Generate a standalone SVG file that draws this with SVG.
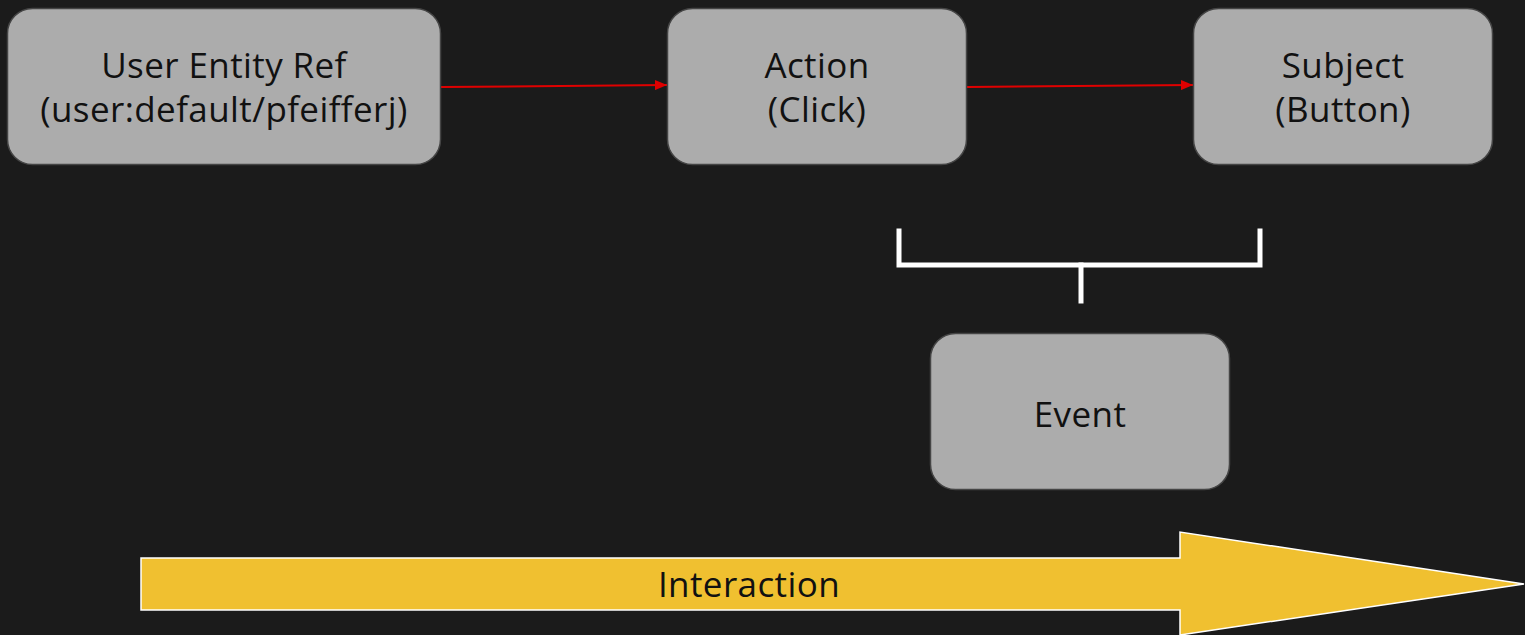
<svg xmlns="http://www.w3.org/2000/svg" width="1525" height="635" viewBox="0 0 1525 635">
<defs>
<style>
.box{fill:#acacac;stroke:#454545;stroke-width:1.5}
.lbl{font-family:"Open Sans","Liberation Sans",sans-serif;font-size:35px;font-weight:370;letter-spacing:0.4px;fill:#111;text-anchor:middle}
.edge{stroke:#e00000;stroke-width:2;fill:none}
.br{stroke:#ffffff;stroke-width:5;fill:none;stroke-linecap:square}
</style>
<marker id="ah" viewBox="0 0 12 10" refX="12" refY="5" markerWidth="12" markerHeight="10" markerUnits="userSpaceOnUse" orient="auto">
<path d="M0,0 L12,5 L0,10 Z" fill="#e00000"/>
</marker>
</defs>
<rect width="1525" height="635" fill="#1b1b1b"/>
<g id="connectors">
<path class="edge" d="M441,87 L667,85" marker-end="url(#ah)"/>
<path class="edge" d="M967,87 L1193,85" marker-end="url(#ah)"/>
<path class="br" d="M899,231 V265 H1260 V231"/>
<path class="br" d="M1081,265 V301"/>
</g>
<g id="user">
<rect class="box" x="7.5" y="8.5" width="433" height="156" rx="25"/>
<text class="lbl" x="224" y="78">User Entity Ref</text>
<text class="lbl" x="224" y="122">(user:default/pfeifferj)</text>
</g>
<g id="action">
<rect class="box" x="667.5" y="8.5" width="299" height="156" rx="25"/>
<text class="lbl" x="817" y="78">Action</text>
<text class="lbl" x="817" y="122">(Click)</text>
</g>
<g id="subject">
<rect class="box" x="1193.5" y="8.5" width="299" height="156" rx="25"/>
<text class="lbl" x="1343" y="78">Subject</text>
<text class="lbl" x="1343" y="122">(Button)</text>
</g>
<g id="event">
<rect class="box" x="930.5" y="333.5" width="299" height="156" rx="25"/>
<text class="lbl" x="1080" y="427">Event</text>
</g>
<g id="interaction">
<path d="M141,558 H1180 V532 L1524,584 L1180,635 V610 H141 Z" fill="#f0c030" stroke="#ffffff" stroke-width="1.5"/>
<text class="lbl" x="749" y="597">Interaction</text>
</g>
</svg>
